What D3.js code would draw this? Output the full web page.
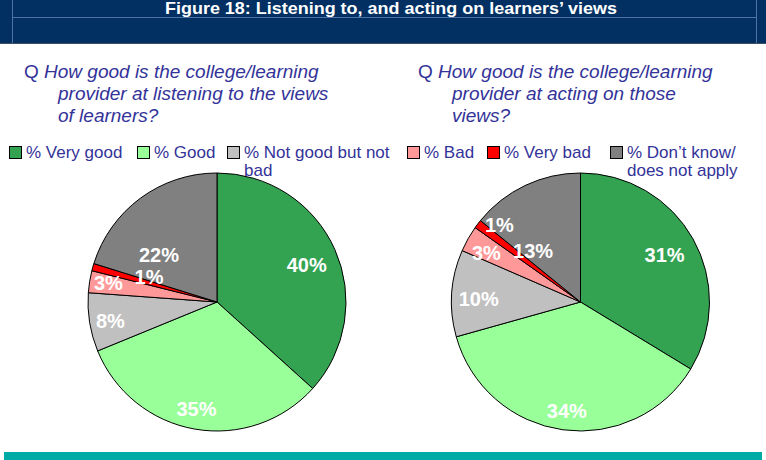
<!DOCTYPE html>
<html>
<head>
<meta charset="utf-8">
<script src="https://cdn.jsdelivr.net/npm/d3@7"></script>
<style>
  body { margin: 0; background: #fff; }
  svg { display: block; font-family: "Liberation Sans", Arial, sans-serif; }
</style>
</head>
<body>
<script>
// data
var categories = ['% Very good', '% Good', '% Not good but not bad', '% Bad', '% Very bad', '% Don\u2019t know/ does not apply'];
var listeningValues = [40, 35, 8, 3, 1, 22];
var actingValues = [31, 34, 10, 3, 1, 13];
var title = 'Figure 18: Listening to, and acting on learners\u2019 views';
var questionLeft = ['How good is the college/learning', 'provider at listening to the views', 'of learners?'];
var questionRight = ['How good is the college/learning', 'provider at acting on those', 'views?'];

// styling / layout
var colors = ['#33a352', '#99ff99', '#c0c0c0', '#ff9999', '#ff0000', '#808080'];
var legendLines = [['% Very good'], ['% Good'], ['% Not good but not', 'bad'], ['% Bad'], ['% Very bad'], ['% Don\u2019t know/', 'does not apply']];
var legendX = [9, 137, 227, 407, 487, 610];
// small nudges so the labels sit where the original put them
var nudgeLeft = [[-9, 7], [-2, 0], [0, 2], [-2, -2], [36, 4], [6, 40]];
var nudgeRight = [[-10, 6], [1, 2], [6, 4], [0, 4], [5, -12], [-1, 46]];

var W = 766, H = 460;
var svg = d3.select('body').append('svg').attr('width', W).attr('height', H);

// header band
svg.append('rect').attr('x', 0).attr('y', 0).attr('width', W).attr('height', 43).attr('fill', '#023063');
svg.append('line').attr('x1', 0).attr('x2', W).attr('y1', 43.5).attr('y2', 43.5).attr('stroke', '#3b4f66');
svg.append('line').attr('x1', 12.5).attr('x2', 12.5).attr('y1', 0).attr('y2', 43).attr('stroke', '#4d74a8');
svg.append('line').attr('x1', 756.5).attr('x2', 756.5).attr('y1', 0).attr('y2', 43).attr('stroke', '#4d74a8');
svg.append('line').attr('x1', 12.5).attr('x2', 756.5).attr('y1', 17.5).attr('y2', 17.5).attr('stroke', '#4d74a8');
// the original title is a little stretched sideways
svg.append('text').attr('x', 391).attr('y', 14).attr('text-anchor', 'middle')
  .attr('textLength', 452).attr('lengthAdjust', 'spacingAndGlyphs')
  .attr('fill', '#fff').attr('font-weight', 'bold').attr('font-size', 16.5).text(title);

// footer band
svg.append('rect').attr('x', 4).attr('y', 452).attr('width', 758).attr('height', 8).attr('fill', '#00aba5');

// questions
function question(x, lines) {
  var t = svg.append('text').attr('fill', '#333399').attr('font-size', 19);
  lines.forEach(function (l, i) {
    if (i === 0) {
      t.append('tspan').attr('x', x).attr('y', 78).text('Q ');
      t.append('tspan').attr('font-style', 'italic').text(l);
    } else {
      t.append('tspan').attr('x', x + 34).attr('y', 78 + i * 22).attr('font-style', 'italic').text(l);
    }
  });
}
question(24, questionLeft);
question(418, questionRight);

// legend
var color = d3.scaleOrdinal().domain(categories).range(colors);
var legend = svg.append('g').selectAll('g').data(categories).join('g')
  .attr('transform', function (d, i) { return 'translate(' + legendX[i] + ',146)'; });
legend.append('rect').attr('x', 0.5).attr('y', 0.5).attr('width', 12).attr('height', 12)
  .attr('fill', function (d) { return color(d); }).attr('stroke', '#000').attr('stroke-width', 1);
legend.append('text').attr('fill', '#333399').attr('font-size', 17)
  .each(function (d, i) {
    var t = d3.select(this);
    legendLines[i].forEach(function (l, j) {
      t.append('tspan').attr('x', 17).attr('y', 12 + j * 18).text(l);
    });
  });

// pies
var pie = d3.pie().sort(null).value(function (d) { return d.value; });
var R = 129;
var arc = d3.arc().innerRadius(0).outerRadius(R);
var labelArc = d3.arc().innerRadius(108).outerRadius(108);

function drawPie(cx, cy, values, nudge) {
  var data = categories.map(function (c, i) { return { cat: c, value: values[i] }; });
  var g = svg.append('g').attr('transform', 'translate(' + cx + ',' + cy + ')');
  var arcs = pie(data);
  g.selectAll('path').data(arcs).join('path')
    .attr('d', arc)
    .attr('fill', function (d) { return color(d.data.cat); })
    .attr('stroke', '#000').attr('stroke-width', 1).attr('stroke-linejoin', 'round');
  g.selectAll('text').data(arcs).join('text')
    .attr('transform', function (d, i) {
      var c = labelArc.centroid(d);
      return 'translate(' + (c[0] + nudge[i][0]) + ',' + (c[1] + nudge[i][1]) + ')';
    })
    .attr('text-anchor', 'middle').attr('dy', '0.36em')
    .attr('fill', '#fff').attr('font-weight', 'bold').attr('font-size', 20)
    .text(function (d) { return d.data.value + '%'; });
}
drawPie(217, 302, listeningValues, nudgeLeft);
drawPie(580.5, 302, actingValues, nudgeRight);
</script>
</body>
</html>
